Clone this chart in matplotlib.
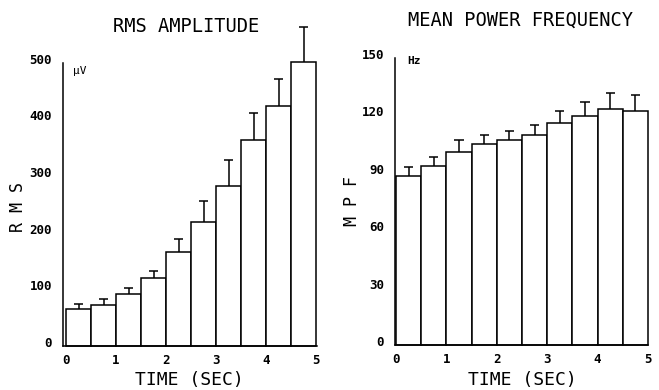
import numpy as np
import matplotlib.pyplot as plt
import matplotlib.transforms as mtransforms

# time bins (left edge of each 0.5 s bin)
time_edges = np.arange(0, 5, 0.5)

rms_mean = [65, 72, 92, 120, 166, 218, 282, 363, 423, 502]
rms_upper = [75, 83, 103, 133, 188, 256, 329, 412, 472, 563]
rms_ticks = [0, 100, 200, 300, 400, 500]

mpf_mean = [88.5, 93.5, 101, 105, 107, 110, 116, 119.5, 123.5, 122.5]
mpf_upper = [93, 98, 107, 110, 112, 115, 122.5, 127, 131.5, 130.5]
mpf_ticks = [0, 30, 60, 90, 120, 150]

time_ticks = [0, 1, 2, 3, 4, 5]

plt.rcParams['font.family'] = 'DejaVu Sans Mono'

fig = plt.figure(figsize=(6.59, 3.90), dpi=100)
ax1 = fig.add_axes([63/659, 44/390, 254/659, 283.3/390])
ax2 = fig.add_axes([395/659, 45/390, 253/659, 287/390])


def draw_panel(ax, means, uppers, ticks, ylim, xlim):
    ax.bar(time_edges, means, width=0.5, align='edge', color='white',
           edgecolor='black', linewidth=1.1, zorder=2, clip_on=False)
    centers = time_edges + 0.25
    ax.vlines(centers, means, uppers, color='black', linewidth=1.1,
              clip_on=False, zorder=3)
    ax.hlines(uppers, centers - 0.09, centers + 0.09, color='black',
              linewidth=1.1, clip_on=False, zorder=3)
    ax.set_xlim(*xlim)
    ax.set_ylim(*ylim)
    ax.set_yticks(ticks)
    ax.set_yticklabels([str(t) for t in ticks], fontsize=9, fontweight='bold')
    ax.set_xticks(time_ticks)
    ax.set_xticklabels([str(t) for t in time_ticks], fontsize=9,
                       fontweight='bold')
    ax.tick_params(axis='both', length=0)
    ax.tick_params(axis='y', pad=8)
    ax.tick_params(axis='x', pad=6)
    ax.spines['top'].set_visible(False)
    ax.spines['right'].set_visible(False)
    ax.spines['left'].set_linewidth(1.1)
    ax.spines['bottom'].set_linewidth(1.1)
    # tick labels sit slightly above their values, like the plotter output
    offset = mtransforms.ScaledTranslation(0, 4/100, fig.dpi_scale_trans)
    for lab in ax.get_yticklabels():
        lab.set_transform(lab.get_transform() + offset)


draw_panel(ax1, rms_mean, rms_upper, rms_ticks, (0, 500), (-0.06, 5.02))
draw_panel(ax2, mpf_mean, mpf_upper, mpf_ticks, (0, 150), (-0.02, 5.0))

fig.text(186/659, 1 - 27/390, 'RMS AMPLITUDE', fontsize=13.5,
         ha='center', va='center')
fig.text(520/659, 1 - 20/390, 'MEAN POWER FREQUENCY', fontsize=13.5,
         ha='center', va='center')

fig.text(189/659, 1 - 380/390, 'TIME (SEC)', fontsize=13,
         ha='center', va='center')
fig.text(522/659, 1 - 380/390, 'TIME (SEC)', fontsize=13,
         ha='center', va='center')

fig.text(18/659, 1 - 207/390, 'R M S', fontsize=12, rotation=90,
         ha='center', va='center')
fig.text(352/659, 1 - 201/390, 'M P F', fontsize=12, rotation=90,
         ha='center', va='center')

fig.text(73/659, 1 - 71/390, 'µV', fontsize=8, ha='left', va='center')
fig.text(407/659, 1 - 61/390, 'Hz', fontsize=8, fontweight='bold',
         ha='left', va='center')

fig.savefig('out.png', dpi=100)
